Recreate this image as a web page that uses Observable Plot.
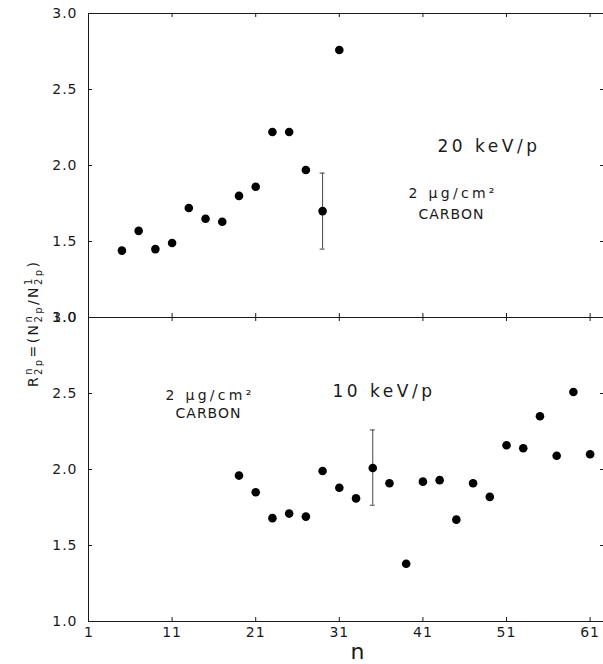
<!DOCTYPE html>
<html><head><meta charset="utf-8">
<script src="https://cdn.jsdelivr.net/npm/d3@7"></script>
<script src="https://cdn.jsdelivr.net/npm/@observablehq/plot@0.6"></script>
<style>body{margin:0;background:#fff} svg{display:block}</style>
</head><body><div id="chart"></div>
<script>
// ---- data ----
const panels = ["20", "10"];
const n20 = [5, 7, 9, 11, 13, 15, 17, 19, 21, 23, 25, 27, 29, 31];
const r20 = [1.44, 1.57, 1.45, 1.49, 1.72, 1.65, 1.63, 1.80, 1.86, 2.22, 2.22, 1.97, 1.70, 2.76];
const n10 = [19, 21, 23, 25, 27, 29, 31, 33, 35, 37, 39, 41, 43, 45, 47, 49, 51, 53, 55, 57, 59, 61];
const r10 = [1.96, 1.85, 1.68, 1.71, 1.69, 1.99, 1.88, 1.81, 2.01, 1.91, 1.38, 1.92, 1.93, 1.67, 1.91, 1.82, 2.16, 2.14, 2.35, 2.09, 2.51, 2.10];
const errPanel = ["20", "10"];
const errN = [29, 35];
const errLo = [1.45, 1.765];
const errHi = [1.95, 2.26];
const xTicks = [1, 11, 21, 31, 41, 51, 61];
const xLabels = ["1", "11", "21", "31", "41", "51", "61"];
const yTicks = [1.0, 1.5, 2.0, 2.5, 3.0];
const yLabels = ["1.0", "1.5", "2.0", "2.5", "3.0"];

const pts = [
  ...n20.map((n, i) => ({panel: "20", n, r: r20[i]})),
  ...n10.map((n, i) => ({panel: "10", n, r: r10[i]}))
];
const errs = errN.map((n, i) => ({panel: errPanel[i], n, lo: errLo[i], hi: errHi[i]}));

const W = 603, H = 664, MT = 13, MB = 43, ML = 88, FH = (H - MT - MB) / 2;
const ink = "#1a1a1a";

function label(panel, text, x, y, size) {
  return Plot.text([text], {fy: [panel], x: [x], y: [y], text: d => d,
    textAnchor: "start", lineAnchor: "bottom", fontSize: size, fill: ink});
}

const chart = Plot.plot({
  width: W, height: H,
  marginTop: MT, marginBottom: MB, marginLeft: ML, marginRight: 0,
  style: {fontFamily: "DejaVu Sans", fontSize: "14px", background: "#fff", color: ink},
  x: {domain: [1, 62.6]},
  y: {domain: [1, 3]},
  fy: {domain: panels, padding: 0, axis: null},
  marks: [
    Plot.ruleY([1, 3], {stroke: ink, strokeWidth: 1}),
    Plot.ruleX([1], {stroke: ink, strokeWidth: 1}),
    Plot.tickX(xTicks, {x: d => d, insetBottom: FH - 4, stroke: ink}),
    Plot.tickX(xTicks, {x: d => d, insetTop: FH - 4, stroke: ink}),
    Plot.tickY(yTicks, {y: d => d, insetRight: W - ML - 4, stroke: ink}),
    Plot.tickY(yTicks, {y: d => d, insetLeft: W - ML - 3, stroke: ink}),
    Plot.axisY({ticks: yTicks, tickSize: 0, tickPadding: 11, label: null,
      tickFormat: d => yLabels[yTicks.indexOf(d)], fontSize: 14, fill: ink}),
    Plot.axisX({ticks: xTicks, tickSize: 0, tickPadding: 6, label: null,
      tickFormat: d => xLabels[xTicks.indexOf(d)], fontSize: 14, fill: ink}),
    Plot.ruleX(errs, {x: "n", y1: "lo", y2: "hi", fy: "panel", stroke: "#444", strokeWidth: 1}),
    Plot.ruleY(errs, {y: "lo", x1: d => d.n - 0.3, x2: d => d.n + 0.3, fy: "panel", stroke: "#444"}),
    Plot.ruleY(errs, {y: "hi", x1: d => d.n - 0.3, x2: d => d.n + 0.3, fy: "panel", stroke: "#444"}),
    Plot.dot(pts, {x: "n", y: "r", fy: "panel", r: 4.3, fill: "#000"}),
    label("20", "20 keV/p", 42.75, 2.086, 17),
    label("20", "2 μg/cm²", 39.28, 1.789, 14),
    label("20", "CARBON", 40.47, 1.651, 14),
    label("10", "10 keV/p", 30.19, 2.480, 17),
    label("10", "2 μg/cm²", 10.21, 2.454, 14),
    label("10", "CARBON", 11.41, 2.336, 14),
    Plot.text(["n"], {fy: ["10"], x: [33.18], frameAnchor: "bottom", dy: 37,
      lineAnchor: "bottom", text: d => d, fontSize: 22, fill: ink})
  ]
});

document.getElementById("chart").appendChild(chart);

// letter spacing to match the wide plotter lettering
const spacing = {"20 keV/p": "3.5px", "10 keV/p": "3.5px", "2 μg/cm²": "3.3px", "CARBON": "1px"};
d3.select(chart).selectAll("text").each(function() {
  const s = this.textContent;
  if (spacing[s]) d3.select(this).attr("letter-spacing", spacing[s]);
  else if (/^[0-9.]+$/.test(s) && s.length > 1) d3.select(this).attr("letter-spacing", "1px");
});

// y-axis title with super/subscripts
const t = d3.select(chart).append("text")
  .attr("transform", "translate(38,387) rotate(-90)")
  .attr("text-anchor", "start")
  .attr("font-family", "DejaVu Sans")
  .attr("font-size", 14)
  .attr("letter-spacing", "2.4px")
  .attr("fill", ink);
function term(base, sup, sub, first) {
  t.append("tspan").attr("dy", first ? 0 : -4).text(base);
  t.append("tspan").attr("font-size", 10).attr("dy", -6).text(sup);
  t.append("tspan").attr("font-size", 10).attr("dx", -(6.4 + 2.4)).attr("dy", 10).text(sub);
}
term("R", "n", "2p", true);
term("=(N", "n", "2p", false);
term("/N", "1", "2p", false);
t.append("tspan").attr("dy", -4).text(")");
</script>
</body></html>
